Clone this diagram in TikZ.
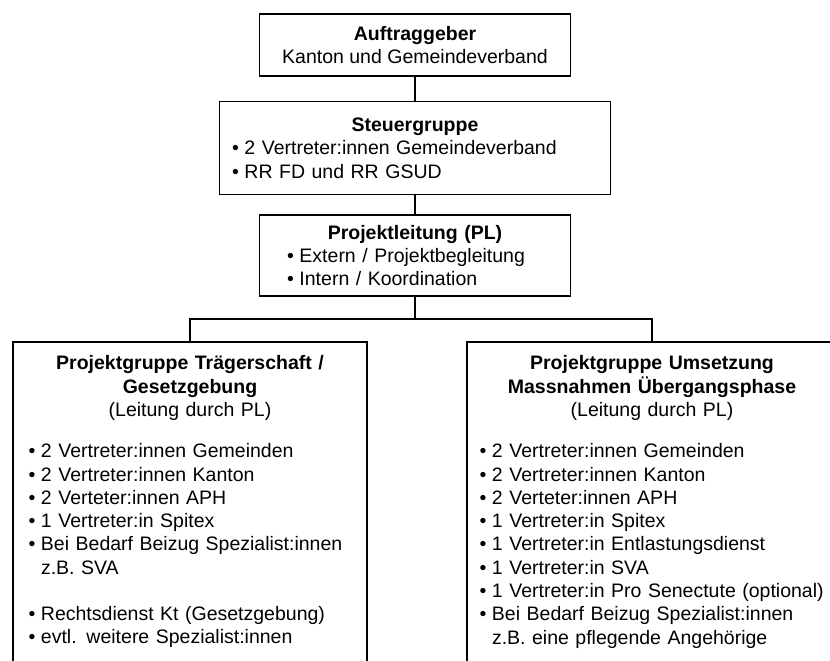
\documentclass[tikz,border=0pt]{standalone}
\usepackage{fontspec}
\setmainfont{Liberation Sans}
\usetikzlibrary{positioning}

\newlength{\pktw}
\setlength{\pktw}{12.5pt}
\newcommand{\pkt}[1]{\noindent\makebox[\pktw][l]{\textbullet}\mbox{#1}\par}
\newcommand{\weiter}[1]{\noindent\hspace*{\pktw}\mbox{#1}\par}

\begin{document}
\begin{tikzpicture}[x=1pt, y=-1pt, node distance=24pt,
    every node/.style={font=\fontsize{19.5}{23.3}\selectfont},
    kasten/.style={rectangle, draw, line width=1.5pt, align=center},
    liste/.style={kasten, align=left},
    linie/.style={line width=1.5pt}]
  \useasboundingbox (0,0) rectangle (830,661);
  \clip (0,0) rectangle (830,661);

  \node[kasten, minimum width=311pt, minimum height=62pt] (auftr) at (415,45) {\textbf{Auftraggeber}\\Kanton und Gemeindeverband};

  \node[liste, text width=366pt, inner xsep=12.5pt, minimum height=93pt, below=24pt of auftr] (steuer) {{\centering\textbf{Steuergruppe}\par}
    \pkt{2 Vertreter:innen Gemeindeverband}
    \pkt{RR FD und RR GSUD}
    \vspace{6pt}};

  \node[liste, text width=256pt, inner xsep=27.5pt, minimum height=81pt, below=19pt of steuer] (pl) {{\centering\textbf{Projektleitung (PL)}\par}
    \pkt{Extern / Projektbegleitung}
    \pkt{Intern / Koordination}};

  \node[liste, text width=323pt, inner xsep=15.5pt, inner ysep=14pt, anchor=north] (traeger) at (190,341) {{\centering\textbf{Projektgruppe Trägerschaft /}\\\textbf{Gesetzgebung}\\(Leitung durch PL)\par}
    \vspace{18pt}
    \pkt{2 Vertreter:innen Gemeinden}
    \pkt{2 Vertreter:innen Kanton}
    \pkt{2 Verteter:innen APH}
    \pkt{1 Vertreter:in Spitex}
    \pkt{Bei Bedarf Beizug Spezialist:innen}
    \weiter{z.B. SVA}
    \vspace{23pt}
    \pkt{Rechtsdienst Kt (Gesetzgebung)}
    \pkt{evtl. weitere Spezialist:innen}
    \vspace*{40pt}};

  \node[liste, text width=345pt, inner xsep=12.5pt, inner ysep=14pt, anchor=north] (umsetz) at (652,341) {{\centering\textbf{Projektgruppe Umsetzung}\\\textbf{Massnahmen Übergangsphase}\\(Leitung durch PL)\par}
    \vspace{18pt}
    \pkt{2 Vertreter:innen Gemeinden}
    \pkt{2 Vertreter:innen Kanton}
    \pkt{2 Verteter:innen APH}
    \pkt{1 Vertreter:in Spitex}
    \pkt{1 Vertreter:in Entlastungsdienst}
    \pkt{1 Vertreter:in SVA}
    \pkt{1 Vertreter:in Pro Senectute (optional)}
    \pkt{Bei Bedarf Beizug Spezialist:innen}
    \weiter{z.B. eine pflegende Angehörige}
    \vspace*{40pt}};

  \draw[linie] (auftr) -- (steuer);
  \draw[linie] (steuer) -- (pl);
  \draw[linie] (pl.south) -- ++(0,22) -| (traeger.north);
  \draw[linie] (pl.south) -- ++(0,22) -| (umsetz.north);
\end{tikzpicture}
\end{document}
